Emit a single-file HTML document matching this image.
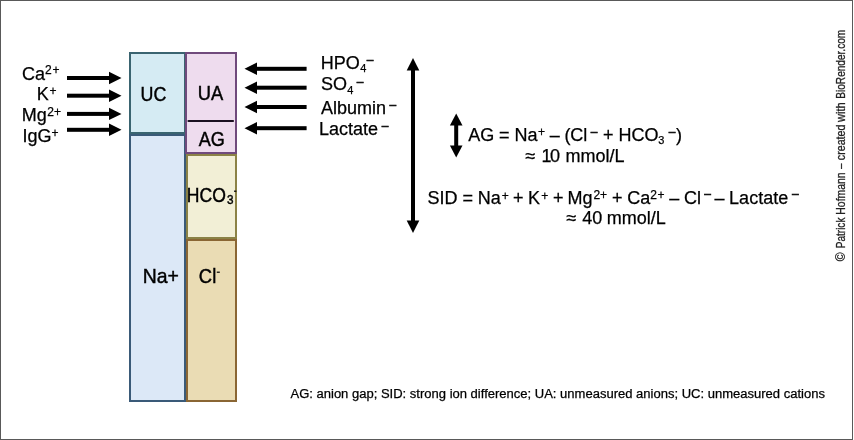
<!DOCTYPE html>
<html><head><meta charset="utf-8"><title>Anion gap and strong ion difference</title><style>
html,body{margin:0;padding:0;background:#fff;width:854px;height:440px;overflow:hidden;}
svg{display:block;will-change:transform;}
text{font-family:"Liberation Sans",sans-serif;fill:#000;}
.bx text{stroke:#000;stroke-width:0.45px;}
.tx text{stroke:#000;stroke-width:0.25px;}
.tx text.m{stroke-width:0.5px;}
.cr text{fill:#222;stroke:#222;stroke-width:0.3px;}
</style></head><body>
<svg width="854" height="440" viewBox="0 0 854 440">
<rect x="0.5" y="0.5" width="852" height="439" fill="#fff" stroke="#595959" stroke-width="1"/>
<rect x="130" y="135" width="55" height="266" fill="#dce8f7" stroke="#3a5a78" stroke-width="2"/>
<rect x="130" y="53" width="55" height="80" fill="#d5ebf3" stroke="#3a6470" stroke-width="2"/>
<rect x="186" y="53" width="50" height="100" fill="#eedcee" stroke="#704a7c" stroke-width="2"/>
<line x1="188.5" y1="121" x2="233" y2="121" stroke="#1a1020" stroke-width="2.2" stroke-linecap="round"/>
<rect x="187" y="155" width="49" height="83" fill="#f2efd6" stroke="#8b8246" stroke-width="2"/>
<rect x="187" y="240" width="49" height="161" fill="#eadcb4" stroke="#8a6634" stroke-width="2"/>
<g class="bx">
<text font-size="20" transform="translate(140.52 100.50) scale(0.892 1)">UC</text>
<text font-size="20" transform="translate(197.79 100.30) scale(0.916 1)">UA</text>
<text font-size="20" transform="translate(198.66 145.50) scale(0.903 1)">AG</text>
<text font-size="20" transform="translate(186.86 201.50) scale(0.879 1)">HCO</text>
<text font-size="20" transform="translate(142.81 282.50) scale(0.971 1)">Na+</text>
<text font-size="20" transform="translate(198.87 282.50) scale(0.919 1)">Cl</text>
<text font-size="13" transform="translate(226.95 203.90) scale(0.9 1)">3</text>
</g>
<rect x="216.8" y="271.6" width="3" height="1.2" fill="#000"/>
<rect x="234" y="190.6" width="2.4" height="1.2" fill="#000"/>
<g fill="#000">
<rect x="67" y="76" width="43" height="4"/><path d="M109 71.8 L121.5 78 L109 84.2 Z"/>
<rect x="67" y="93.7" width="43" height="4"/><path d="M109 89.5 L121.5 95.7 L109 101.9 Z"/>
<rect x="67" y="111.9" width="43" height="4"/><path d="M109 107.7 L121.5 113.9 L109 120.1 Z"/>
<rect x="67" y="127.8" width="43" height="4"/><path d="M109 123.6 L121.5 129.8 L109 136 Z"/>
<rect x="256" y="66.8" width="50.6" height="4"/><path d="M257 62.6 L244.5 68.8 L257 75 Z"/>
<rect x="256" y="85.7" width="50.6" height="4"/><path d="M257 81.5 L244.5 87.7 L257 93.9 Z"/>
<rect x="256" y="105" width="50.6" height="4"/><path d="M257 100.8 L244.5 107 L257 113.2 Z"/>
<rect x="256" y="126.2" width="50.6" height="4"/><path d="M257 122 L244.5 128.2 L257 134.4 Z"/>
<rect x="411" y="69" width="4" height="153"/>
<path d="M413 58 L419.3 70.5 L406.7 70.5 Z"/>
<path d="M413 233 L419.3 220.5 L406.7 220.5 Z"/>
<rect x="454.2" y="124" width="4" height="23"/>
<path d="M456.2 113.6 L462.5 125.6 L449.9 125.6 Z"/>
<path d="M456.2 157.4 L462.5 145.6 L449.9 145.6 Z"/>
</g>
<g class="tx">
<text x="22.09" y="79.50" font-size="18">Ca</text>
<text x="45.10" y="73.60" font-size="12">2</text>
<text x="52.41" y="73.84" font-size="12">+</text>
<text x="36.82" y="99.80" font-size="18">K</text>
<text x="49.61" y="94.74" font-size="12">+</text>
<text x="21.82" y="120.50" font-size="18">Mg</text>
<text x="47.20" y="115.80" font-size="12">2</text>
<text x="53.91" y="115.94" font-size="12">+</text>
<text x="22.54" y="141.50" font-size="18">IgG</text>
<text x="51.41" y="136.64" font-size="12">+</text>
<text x="320.82" y="69.10" font-size="18">HPO</text>
<text x="360.25" y="72.30" font-size="11">4</text>
<text x="366.80" y="64.44" font-size="12" class="m">–</text>
<text x="320.98" y="90.40" font-size="18">SO</text>
<text x="347.15" y="93.50" font-size="11">4</text>
<text x="356.80" y="85.54" font-size="12" class="m">–</text>
<text x="320.96" y="113.90" font-size="18">Albumin</text>
<text x="389.60" y="108.54" font-size="12" class="m">–</text>
<text x="319.02" y="134.90" font-size="18">Lactate</text>
<text x="381.70" y="129.64" font-size="12" class="m">–</text>
<text x="468.16" y="140.50" font-size="18">AG</text>
<text x="499.02" y="140.50" font-size="18">=</text>
<text x="514.62" y="140.50" font-size="18">Na</text>
<text x="537.91" y="135.79" font-size="12">+</text>
<text x="549.70" y="140.50" font-size="18">–</text>
<text x="564.38" y="140.50" font-size="18">(Cl</text>
<text x="590.80" y="135.54" font-size="12" class="m">–</text>
<text x="602.92" y="140.50" font-size="18">+</text>
<text x="618.42" y="140.50" font-size="18">HCO</text>
<text x="658.18" y="143.60" font-size="11">3</text>
<text x="668.70" y="135.74" font-size="12" class="m">–</text>
<text x="675.89" y="140.50" font-size="18">)</text>
<text x="525.61" y="161.60" font-size="18">≈</text>
<text x="541.53" y="161.60" font-size="18">1</text>
<text x="549.90" y="161.60" font-size="18">0</text>
<text x="565.40" y="161.60" font-size="18">mmol/L</text>
<text x="427.38" y="203.70" font-size="18">SID</text>
<text x="462.52" y="203.70" font-size="18">=</text>
<text x="477.82" y="203.70" font-size="18">Na</text>
<text x="501.71" y="199.59" font-size="12">+</text>
<text x="513.02" y="203.70" font-size="18">+</text>
<text x="528.02" y="203.70" font-size="18">K</text>
<text x="541.31" y="199.59" font-size="12">+</text>
<text x="553.12" y="203.70" font-size="18">+</text>
<text x="567.52" y="203.70" font-size="18">Mg</text>
<text x="593.40" y="198.90" font-size="12">2</text>
<text x="600.11" y="199.29" font-size="12">+</text>
<text x="612.02" y="203.70" font-size="18">+</text>
<text x="627.29" y="203.70" font-size="18">Ca</text>
<text x="650.30" y="198.90" font-size="12">2</text>
<text x="657.41" y="199.29" font-size="12">+</text>
<text x="669.20" y="203.70" font-size="18">–</text>
<text x="683.99" y="203.70" font-size="18">Cl</text>
<text x="704.30" y="198.24" font-size="12" class="m">–</text>
<text x="714.40" y="203.70" font-size="18">–</text>
<text x="729.12" y="203.70" font-size="18">Lactate</text>
<text x="792.00" y="198.44" font-size="12" class="m">–</text>
<text x="566.61" y="224.00" font-size="18">≈</text>
<text x="582.19" y="224.00" font-size="18">40</text>
<text x="606.70" y="224.00" font-size="18">mmol/L</text>
<text x="290.47" y="398.00" font-size="13.03">AG: anion gap; SID: strong ion difference; UA: unmeasured anions; UC: unmeasured cations</text>
</g>
<g class="cr">
<text font-size="12" transform="translate(844.5 261.28) rotate(-90) scale(1.003 1)">©</text>
<text font-size="12" transform="translate(844.5 248.22) rotate(-90) scale(0.835 1)">Patrick</text>
<text font-size="12" transform="translate(844.5 214.66) rotate(-90) scale(0.869 1)">Hofmann</text>
<text font-size="12" transform="translate(844.5 169.00) rotate(-90) scale(0.825 1)">–</text>
<text font-size="12" transform="translate(844.5 160.15) rotate(-90) scale(0.888 1)">created</text>
<text font-size="12" transform="translate(844.5 121.98) rotate(-90) scale(0.923 1)">with</text>
<text font-size="12" transform="translate(844.5 98.73) rotate(-90) scale(0.841 1)">BioRender.com</text>
</g>
</svg>
</body></html>
